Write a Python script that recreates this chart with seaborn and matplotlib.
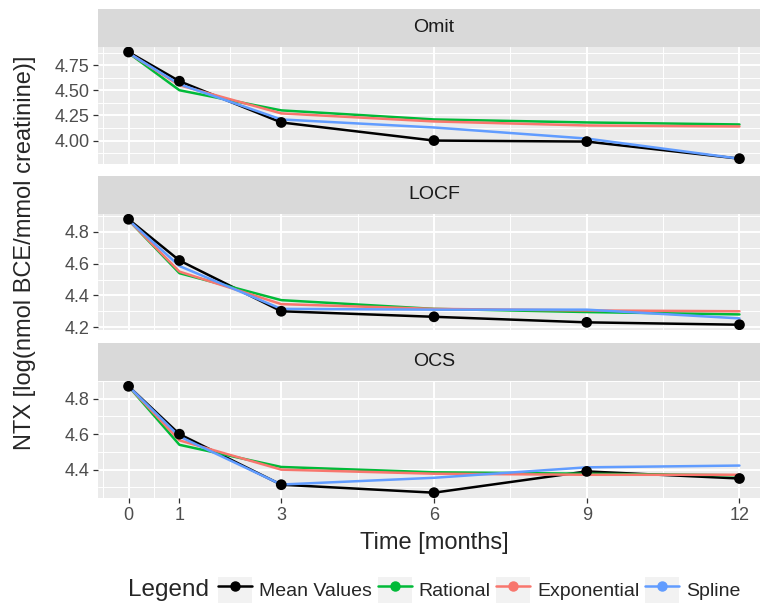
import numpy as np
import pandas as pd
import matplotlib
matplotlib.use("Agg")
import matplotlib.pyplot as plt
import seaborn as sns
from matplotlib.lines import Line2D
from matplotlib.patches import Rectangle
from matplotlib.ticker import FixedLocator, FormatStrFormatter, MultipleLocator

# values
months = [0, 1, 3, 6, 9, 12]
methods = ["Mean Values", "Rational", "Exponential", "Spline"]
panels = ["Omit", "LOCF", "OCS"]

omit_mean = [4.88, 4.59, 4.18, 4.00, 3.99, 3.82]
omit_rational = [4.87, 4.50, 4.30, 4.21, 4.18, 4.16]
omit_exponential = [4.87, 4.55, 4.27, 4.19, 4.15, 4.14]
omit_spline = [4.87, 4.56, 4.21, 4.13, 4.02, 3.82]

locf_mean = [4.88, 4.62, 4.30, 4.265, 4.23, 4.215]
locf_rational = [4.875, 4.54, 4.37, 4.315, 4.295, 4.28]
locf_exponential = [4.875, 4.55, 4.345, 4.315, 4.305, 4.30]
locf_spline = [4.875, 4.585, 4.315, 4.31, 4.31, 4.255]

ocs_mean = [4.87, 4.60, 4.315, 4.27, 4.39, 4.35]
ocs_rational = [4.87, 4.54, 4.415, 4.385, 4.377, 4.368]
ocs_exponential = [4.87, 4.565, 4.40, 4.377, 4.371, 4.371]
ocs_spline = [4.87, 4.587, 4.316, 4.354, 4.413, 4.423]

series = {
    "Omit": [omit_mean, omit_rational, omit_exponential, omit_spline],
    "LOCF": [locf_mean, locf_rational, locf_exponential, locf_spline],
    "OCS": [ocs_mean, ocs_rational, ocs_exponential, ocs_spline],
}

rows = []
for p in panels:
    for m, vals in zip(methods, series[p]):
        for t, v in zip(months, vals):
            rows.append({"panel": p, "method": m, "time": t, "ntx": v})
df = pd.DataFrame(rows)

palette = {"Mean Values": "black", "Rational": "#00BA38",
           "Exponential": "#F8766D", "Spline": "#619CFF"}

sns.set_theme(style="white")
plt.rcParams["font.family"] = ["Liberation Sans", "DejaVu Sans"]

W, H = 760, 603
fig = plt.figure(figsize=(W / 100, H / 100), dpi=100)

left = 98 / W
width = 672 / W
# (plot top, plot bottom, strip top) in pixels
boxes = [(46.7, 164, 9), (214, 330, 176), (381, 498, 343)]
yfmt = ["%.2f", "%.1f", "%.1f"]
ystep = [0.25, 0.2, 0.2]

for i, p in enumerate(panels):
    top, bot, stop = boxes[i]
    ax = fig.add_axes([left, 1 - bot / H, width, (bot - top) / H])
    sax = fig.add_axes([left, 1 - top / H, width, (top - stop) / H])
    sax.set_facecolor("#D9D9D9")
    sax.set_xticks([])
    sax.set_yticks([])
    for s in sax.spines.values():
        s.set_visible(False)
    sax.text(0.5, 0.5, p, ha="center", va="center", fontsize=14,
             color="#1A1A1A", transform=sax.transAxes)

    d = df[df.panel == p]
    sns.lineplot(data=d, x="time", y="ntx", hue="method", hue_order=methods,
                 palette=palette, ax=ax, legend=False, linewidth=1.8,
                 estimator=None, sort=False)
    sns.scatterplot(data=d[d.method == "Mean Values"], x="time", y="ntx",
                    color="black", s=60, ax=ax, legend=False, zorder=5,
                    edgecolor="none")

    lo, hi = d.ntx.min(), d.ntx.max()
    pad = (hi - lo) * 0.05
    ax.set_ylim(lo - pad, hi + pad)
    ax.set_xlim(-0.6, 12.6)

    ax.set_facecolor("#EBEBEB")
    for s in ax.spines.values():
        s.set_visible(False)
    ax.yaxis.set_major_locator(MultipleLocator(ystep[i]))
    ax.yaxis.set_minor_locator(MultipleLocator(ystep[i] / 2))
    ax.yaxis.set_major_formatter(FormatStrFormatter(yfmt[i]))
    ax.xaxis.set_major_locator(FixedLocator(months))
    ax.xaxis.set_minor_locator(FixedLocator([-0.5, 0.5, 2, 4.5, 7.5, 10.5]))
    ax.grid(which="major", color="white", linewidth=1.4)
    ax.grid(which="minor", color="white", linewidth=0.7)
    ax.set_axisbelow(True)
    ax.tick_params(axis="both", which="major", length=3.6, width=0.9,
                   color="#333333", labelcolor="#4D4D4D", labelsize=13,
                   pad=2.6, left=True, bottom=(i == 2), labelbottom=(i == 2))
    ax.tick_params(which="minor", length=0)
    ax.set_xlabel("")
    ax.set_ylabel("")

fig.text(25 / W, 1 - 253 / H, "NTX [log(nmol BCE/mmol creatinine)]",
         rotation=90, ha="center", va="center", fontsize=17)
fig.text(434 / W, 1 - 543 / H, "Time [months]", ha="center", va="center",
         fontsize=17)

handles = []
for m in methods:
    bg = Rectangle((0, 0), 1, 1, facecolor="#F2F2F2", edgecolor="none")
    ln = Line2D([], [], color=palette[m], linewidth=1.8, marker="o",
                markersize=6.5)
    handles.append((bg, ln))
fig.text(128 / W, 1 - 590 / H, "Legend", ha="left", va="center",
         fontsize=17.5)
fig.legend(handles, methods, loc="center left",
           bbox_to_anchor=(218 / W, 1 - 590 / H), ncol=4, frameon=False,
           fontsize=14, handlelength=1.75, handleheight=1.75,
           handletextpad=0.35, columnspacing=0.3, borderpad=0,
           borderaxespad=0)

fig.savefig("out.png", dpi=100)
